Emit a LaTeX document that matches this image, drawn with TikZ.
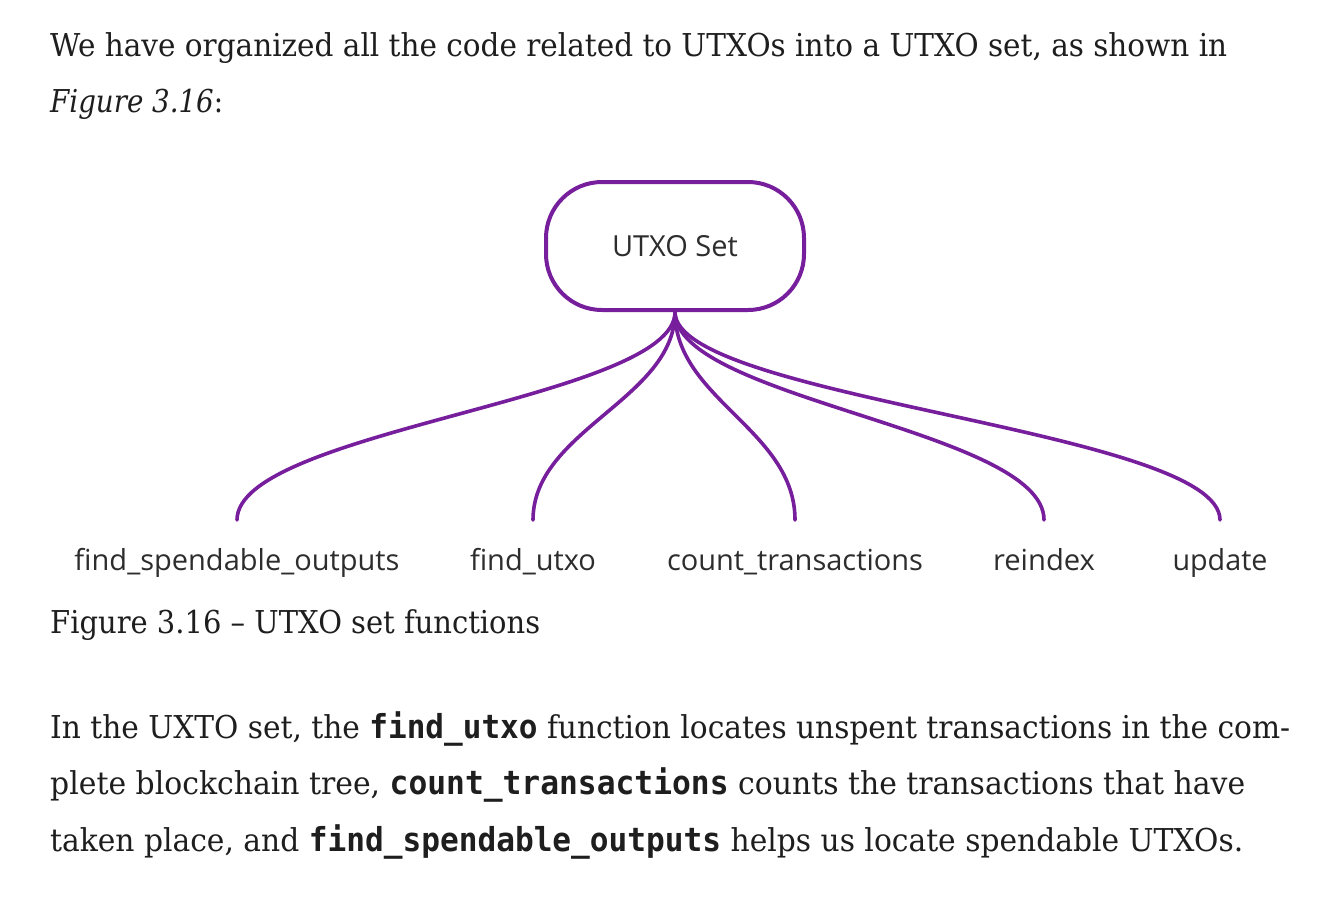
\documentclass[tikz,border=0pt]{standalone}
\usepackage{fontspec}
\usetikzlibrary{calc}
\setmainfont{DejaVu Serif}
\newfontfamily\labelfont{Open Sans}
\newfontfamily\codefont{DejaVu Sans Mono}
\definecolor{mmpurple}{RGB}{118,30,155}
\definecolor{labelgray}{RGB}{45,45,45}
\definecolor{bodytext}{RGB}{30,30,30}
\newsavebox\fitbox
\newcommand\fitto[2]{\sbox\fitbox{#2}\scalebox{\fpeval{(#1)/(\the\wd\fitbox)}}[1]{\usebox\fitbox}}
\newcommand\code[1]{{\codefont\bfseries\fontsize{33}{33}\selectfont #1}}
\begin{document}
\begin{tikzpicture}[x=1pt,y=-1pt,
  bodyline/.style={anchor=base west,inner sep=0pt,text=bodytext,font=\fontsize{31.5}{31.5}\selectfont},
  rootnode/.style={draw=mmpurple,line width=4pt,rounded corners=56pt,minimum width=258pt,minimum height=128pt,inner sep=0pt,text=labelgray,font=\labelfont\fontsize{29}{29}\selectfont},
  leaf/.style={anchor=base,inner sep=0pt,text=labelgray,font=\labelfont\fontsize{29}{29}\selectfont},
  conn/.style={draw=mmpurple,line width=3.6pt,line cap=round}]
\useasboundingbox[fill=white] (0,0) rectangle (1336,898);
% paragraph 1
\node[bodyline] (p1a) at (50,56) {\fitto{1177pt}{We have organized all the code related to UTXOs into a UTXO set, as shown in}};
\node[bodyline] (p1b) at (50,112) {\fitto{173pt}{\textit{Figure 3.16}:}};
% diagram
\node[rootnode] (root) at (675,246) {UTXO Set};
\coordinate (e1) at (237,520);
\coordinate (e2) at (533,520);
\coordinate (e3) at (795,520);
\coordinate (e4) at (1044,520);
\coordinate (e5) at (1220,520);
\foreach \e in {e1,e2,e3,e4,e5}{
  \draw[conn] (root.south) .. controls +(0,87) and ($(\e)+(0,-90)$) .. (\e);
}
\node[leaf] (l1) at (237,570) {\fitto{325pt}{find\_spendable\_outputs}};
\node[leaf] (l2) at (533,570) {\fitto{126pt}{find\_utxo}};
\node[leaf] (l3) at (795,570) {\fitto{256pt}{count\_transactions}};
\node[leaf] (l4) at (1044,570) {\fitto{102pt}{reindex}};
\node[leaf] (l5) at (1220,570) {\fitto{95pt}{update}};
% caption
\node[bodyline] (cap) at (50,633) {\fitto{490pt}{Figure 3.16 -- UTXO set functions}};
% paragraph 2
\node[bodyline] (p2a) at (50,738) {\fitto{1240pt}{In the UXTO set, the \code{find\_utxo} function locates unspent transactions in the com-}};
\node[bodyline] (p2b) at (50,794) {\fitto{1195pt}{plete blockchain tree, \code{count\_transactions} counts the transactions that have}};
\node[bodyline] (p2c) at (50,851) {\fitto{1193pt}{taken place, and \code{find\_spendable\_outputs} helps us locate spendable UTXOs.}};
\end{tikzpicture}
\end{document}
